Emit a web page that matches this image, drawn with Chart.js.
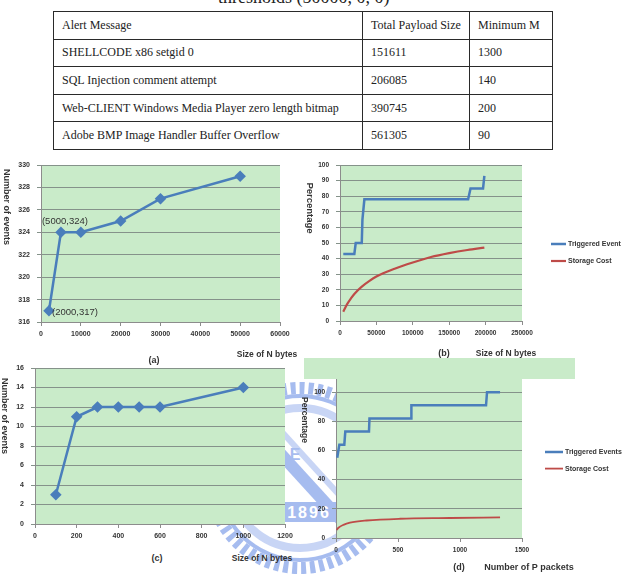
<!DOCTYPE html>
<html><head><meta charset="utf-8">
<script src="https://cdn.jsdelivr.net/npm/chart.js@4.4.1/dist/chart.umd.min.js"></script>
<style>
html,body{margin:0;padding:0;background:#fff;}
body{width:629px;height:576px;position:relative;overflow:hidden;font-family:'Liberation Sans',Arial,sans-serif;}
.abs{position:absolute;}
canvas{position:absolute;z-index:1;}
#title{left:218px;top:-12px;font:18px/18px 'Liberation Serif','Times New Roman',serif;color:#222;white-space:nowrap;}
#tbl{position:absolute;left:53px;top:11px;border-collapse:collapse;table-layout:fixed;width:499px;font:12px 'Liberation Serif','Times New Roman',serif;color:#222;}
#tbl td{border:1px solid #2a2a2a;height:26.6px;padding:0 0 0 8px;vertical-align:middle;white-space:nowrap;}
.cap{position:absolute;z-index:3;font-weight:bold;color:#333;white-space:nowrap;transform:translate(-50%,-50%);}
.ytitle{position:absolute;z-index:3;font-weight:bold;color:#333;white-space:nowrap;transform:translate(-50%,-50%) rotate(90deg);}
#band{position:absolute;z-index:2;left:304px;top:358px;width:271px;height:21px;background:#c9ebc9;}
</style></head><body>
<div id="title" class="abs">thresholds (50000, 0, 0)</div>
<table id="tbl">
<colgroup><col style="width:309px"><col style="width:107px"><col style="width:83px"></colgroup>
<tbody id="tbody"></tbody>
</table>

<svg class="abs" style="left:0;top:0;z-index:0" width="629" height="576">
 <g opacity="0.55">
  <circle cx="300" cy="478" r="90" fill="none" stroke="#5f86e3" stroke-width="12" stroke-dasharray="5 4"/>
  <circle cx="300" cy="478" r="82" fill="#ffffff" stroke="#5f86e3" stroke-width="4"/>
  <circle cx="300" cy="478" r="70" fill="none" stroke="#9cb3ee" stroke-width="8"/>
  <path d="M248 418 L352 532" stroke="#5f86e3" stroke-width="12"/>
  <path d="M262 410 L362 520" stroke="#9cb3ee" stroke-width="6"/>
  <rect x="232" y="502" width="136" height="20" fill="#5f86e3"/>
  <text x="309" y="518" font-size="16" font-weight="bold" fill="#ffffff" text-anchor="middle" letter-spacing="2" font-family="Liberation Sans">1896</text>
  <text x="295" y="460" font-size="16" font-weight="bold" fill="#5f86e3" text-anchor="middle" font-family="Liberation Sans">E</text>
 </g>
</svg>

<canvas id="ca" width="300" height="195" style="left:0;top:150px"></canvas>
<canvas id="cb" width="329" height="195" style="left:300px;top:150px"></canvas>
<canvas id="cc" width="300" height="195" style="left:0;top:355px"></canvas>
<canvas id="cd" width="329" height="220" style="left:300px;top:350px"></canvas>
<div id="band"></div>

<div class="ytitle" style="left:7px;top:207px;font-size:9px">Number of events</div>
<div class="ytitle" style="left:310px;top:208px;font-size:9.5px">Percentage</div>
<div class="ytitle" style="left:5px;top:416px;font-size:9px">Number of events</div>
<div class="ytitle" style="left:305px;top:420px;font-size:8.5px">Percentage</div>

<div class="cap" style="left:154px;top:360px;font-size:9px">(a)</div>
<div class="cap" style="left:267px;top:354px;font-size:8.5px">Size of N bytes</div>
<div class="cap" style="left:444px;top:353px;font-size:9px">(b)</div>
<div class="cap" style="left:506px;top:353px;font-size:8.5px">Size of N bytes</div>
<div class="cap" style="left:157px;top:558px;font-size:9px">(c)</div>
<div class="cap" style="left:262px;top:558px;font-size:8.5px">Size of N bytes</div>
<div class="cap" style="left:459px;top:567px;font-size:9px">(d)</div>
<div class="cap" style="left:529px;top:567px;font-size:9px">Number of P packets</div>

<script>
// ---------- table data ----------
const tableHeader = ['Alert Message', 'Total Payload Size', 'Minimum M'];
const alertMessages = ['SHELLCODE x86 setgid 0', 'SQL Injection comment attempt', 'Web-CLIENT Windows Media Player zero length bitmap', 'Adobe BMP Image Handler Buffer Overflow'];
const payloadSizes = [151611, 206085, 390745, 561305];
const minimumM = [1300, 140, 200, 90];

// ---------- chart (a) ----------
const aSizeN = [2000, 5000, 10000, 20000, 30000, 50000];
const aEvents = [317, 324, 324, 325, 327, 329];
const aNotes = ['(2000,317)', '(5000,324)'];

// ---------- chart (b) ----------
const bTrigX = [4500, 19700, 21600, 29900, 30800, 33500, 176000, 179300, 196500, 198300];
const bTrigY = [43, 43, 50, 50, 65, 78, 78, 85, 85, 93];
const bStoreX = [4500, 10000, 15000, 20000, 30000, 40000, 50000, 75000, 100000, 125000, 150000, 175000, 198300];
const bStoreY = [6, 11, 14.5, 17.5, 22, 25.5, 28.5, 33.5, 37.5, 41, 43.5, 45.5, 47];

// ---------- chart (c) ----------
const cSizeM = [100, 200, 300, 400, 500, 600, 1000];
const cEvents = [3, 11, 12, 12, 12, 12, 14];

// ---------- chart (d) ----------
const dTrigX = [10, 27, 67, 75, 266, 270, 605, 608, 1210, 1218, 1323];
const dTrigY = [55, 64, 64, 73, 73, 82, 82, 91, 91, 100, 100];
const dStoreX = [5, 20, 60, 113, 247, 516, 919, 1323];
const dStoreY = [5.5, 7, 9, 10.5, 12, 13.2, 13.7, 14.2];

const legendB = ['Triggered Event', 'Storage Cost'];
const legendD = ['Triggered Events', 'Storage Cost'];

// build table
(function(){
  const tb = document.getElementById('tbody');
  const rows = [tableHeader].concat(alertMessages.map((m,i)=>[m, String(payloadSizes[i]), String(minimumM[i])]));
  rows.forEach(r=>{
    const tr = document.createElement('tr');
    r.forEach(c=>{ const td=document.createElement('td'); td.textContent=c; tr.appendChild(td); });
    tb.appendChild(tr);
  });
})();

Chart.defaults.animation = false;
Chart.defaults.font.family = "'Liberation Sans', Arial, sans-serif";

const BLUE = '#4a7ebb', RED = '#be4b48', GREEN = '#c9ebc9', GRID = '#85928a', AX = '#8c8c8c', TXT = '#333';

const plotBg = { id:'plotBg', beforeDraw(chart, args, o){ const {ctx, chartArea:a}=chart; ctx.save(); ctx.fillStyle=o.color||GREEN; ctx.fillRect(a.left,a.top,a.right-a.left,a.bottom-a.top); ctx.restore(); } };
const pointNotes = { id:'pointNotes', afterDatasetsDraw(chart, args, o){
  if(!o.items) return; const meta=chart.getDatasetMeta(0); const ctx=chart.ctx;
  ctx.save(); ctx.font=o.font; ctx.fillStyle=o.color; ctx.textBaseline='middle';
  o.items.forEach(it=>{ const p=meta.data[it.index]; ctx.textAlign=it.align; ctx.fillText(it.text, p.x+it.dx, p.y+it.dy); });
  ctx.restore(); } };
const sideLegend = { id:'sideLegend', afterDraw(chart, args, o){
  if(!o.show) return; const {ctx, chartArea:a}=chart;
  ctx.save(); ctx.font=o.font; ctx.textBaseline='middle'; ctx.textAlign='left'; ctx.fillStyle=o.color;
  chart.data.datasets.forEach((ds,i)=>{ const y=a.top+o.top+i*o.gap; const x=a.right+o.dx;
    ctx.strokeStyle=ds.borderColor; ctx.lineWidth=ds.borderWidth; ctx.beginPath(); ctx.moveTo(x,y); ctx.lineTo(x+o.len,y); ctx.stroke();
    ctx.fillText(ds.label, x+o.len+2, y); });
  ctx.restore(); } };
Chart.register(plotBg, pointNotes, sideLegend);

const plain = v => String(v);
function xs(min,max,step,size,h){ return {type:'linear',min,max,
  ticks:{stepSize:step,font:{size,weight:'bold'},color:TXT,padding:4,maxRotation:0,autoSkip:false,callback:plain},
  grid:{drawOnChartArea:false,tickLength:4,color:AX}, border:{color:AX}, afterFit(s){s.height=h;}}; }
function ys(min,max,step,size,w){ return {type:'linear',min,max,
  ticks:{stepSize:step,font:{size,weight:'bold'},color:TXT,padding:7,callback:plain},
  grid:{color:GRID,tickLength:4}, border:{color:AX}, afterFit(s){s.width=w;}}; }
const pts = (X,Y)=>X.map((x,i)=>({x,y:Y[i]}));

function base(pad, scales, plugins){ return {responsive:false, maintainAspectRatio:false, layout:{padding:pad},
  scales, plugins:Object.assign({legend:{display:false}, tooltip:{enabled:false}}, plugins)}; }

new Chart(document.getElementById('ca'), { type:'line',
  data:{datasets:[{data:pts(aSizeN,aEvents), borderColor:BLUE, backgroundColor:BLUE, borderWidth:2.5, pointStyle:'rectRot', pointRadius:4, tension:0}]},
  options: base({left:0,top:15,right:20,bottom:0},
    {x:xs(0,60000,10000,7,23), y:ys(316,330,2,7,41)},
    {pointNotes:{font:"9.5px 'Liberation Sans', Arial", color:TXT, items:[
      {index:0,text:aNotes[0],align:'left',dx:3,dy:2},
      {index:1,text:aNotes[1],align:'center',dx:4,dy:-11}]}})
});

new Chart(document.getElementById('cb'), { type:'line',
  data:{datasets:[
    {label:legendB[0], data:pts(bTrigX,bTrigY), borderColor:BLUE, borderWidth:2.5, pointRadius:0, tension:0},
    {label:legendB[1], data:pts(bStoreX,bStoreY), borderColor:RED, borderWidth:2.2, pointRadius:0, cubicInterpolationMode:'monotone'}]},
  options: base({left:0,top:15,right:107,bottom:0},
    {x:xs(0,250000,50000,6.5,24), y:ys(0,100,10,6.5,40)},
    {sideLegend:{show:true, font:"bold 7px 'Liberation Sans', Arial", color:TXT, dx:29, len:15, top:79, gap:17}})
});

new Chart(document.getElementById('cc'), { type:'line',
  data:{datasets:[{data:pts(cSizeM,cEvents), borderColor:BLUE, backgroundColor:BLUE, borderWidth:2.5, pointStyle:'rectRot', pointRadius:4, tension:0}]},
  options: base({left:0,top:13,right:15,bottom:0},
    {x:xs(0,1200,200,7,26), y:ys(0,16,2,7,35)}, {})
});

new Chart(document.getElementById('cd'), { type:'line',
  data:{datasets:[
    {label:legendD[0], data:pts(dTrigX,dTrigY), borderColor:BLUE, borderWidth:2.5, pointRadius:0, tension:0},
    {label:legendD[1], data:pts(dStoreX,dStoreY), borderColor:RED, borderWidth:1.8, pointRadius:0, cubicInterpolationMode:'monotone'}]},
  options: base({left:0,top:13,right:107,bottom:0},
    {x:xs(0,1500,500,6.5,32), y:ys(0,120,20,6.5,36)},
    {sideLegend:{show:true, font:"bold 7px 'Liberation Sans', Arial", color:TXT, dx:23, len:18, top:89, gap:16.6}})
});
</script>
</body></html>
